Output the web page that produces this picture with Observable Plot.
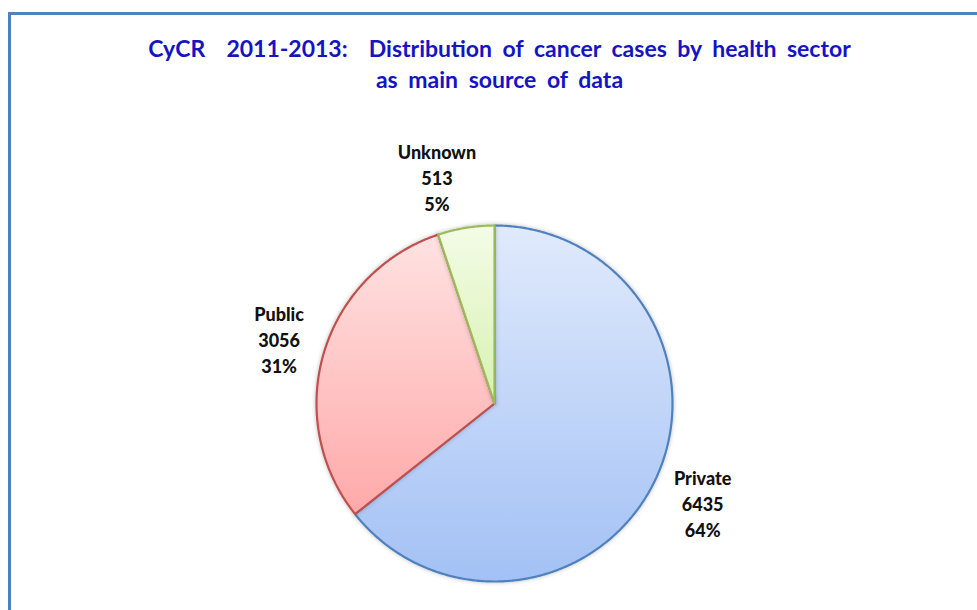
<!DOCTYPE html>
<html>
<head>
<meta charset="utf-8">
<script src="https://cdn.jsdelivr.net/npm/d3@7"></script>
<script src="https://cdn.jsdelivr.net/npm/@observablehq/plot@0.6"></script>
<style>
  html, body { margin: 0; padding: 0; background: #fff; }
  body { width: 977px; height: 610px; overflow: hidden; position: relative; font-family: Lato, "Open Sans", sans-serif; }
  #frame { position: absolute; left: 8px; top: 12px; width: 1100px; height: 700px; border: 3px solid #4F81BD; box-sizing: border-box; }
  #title { position: relative; height: 100px; box-sizing: border-box; padding-top: 33px; text-align: center; color: #1414C4; font-weight: bold; font-size: 23px; line-height: 31px; word-spacing: 5px; padding-left: 22px; }
  #chart { position: relative; }
</style>
</head>
<body>
<div id="frame"></div>
<div id="title">CyCR&nbsp; 2011-2013:&nbsp; Distribution of cancer cases by health sector<br>as main source of data</div>
<div id="chart"></div>
<script>
const sectors = ["Private", "Public", "Unknown"];
const cases = [6435, 3056, 513];
const strokeColors = ["#4F81BD", "#C0504D", "#9BBB59"];
const gradTop = ["#E0EAFC", "#FFE2E2", "#F3FCE6"];
const gradBottom = ["#A3C1F5", "#FFA9A9", "#D8F1B2"];

const total = d3.sum(cases);
const arcs = d3.pie().sort(null).value(d => d)(cases);

// outline of each slice, derived from the pie angles
const outlines = sectors.map((name, i) => {
  const a = arcs[i];
  const pts = [{name, x: 0, y: 0}];
  const n = Math.max(2, Math.ceil((a.endAngle - a.startAngle) / (Math.PI / 360)));
  for (let k = 0; k <= n; k++) {
    const t = a.startAngle + (a.endAngle - a.startAngle) * k / n;
    pts.push({name, x: Math.sin(t), y: Math.cos(t)});
  }
  pts.push({name, x: 0, y: 0});
  return pts;
});

const labels = sectors.map((name, i) => {
  const mid = (arcs[i].startAngle + arcs[i].endAngle) / 2;
  return {
    name,
    x: 1.28 * Math.sin(mid),
    y: 1.28 * Math.cos(mid),
    text: `${name}\n${cases[i]}\n${Math.round(cases[i] / total * 100)}%`
  };
});

const cx = 494, cy = 303, r = 178;

const plot = Plot.plot({
  width: 977,
  height: 510,
  margin: 0,
  style: {background: "transparent", overflow: "visible"},
  x: {domain: [-1, 1], range: [cx - r, cx + r], axis: null},
  y: {domain: [-1, 1], range: [cy + r, cy - r], axis: null},
  marks: [
    ...outlines.map((pts, i) => Plot.line(pts, {
      x: "x", y: "y",
      fill: `url(#grad${i})`,
      stroke: strokeColors[i],
      strokeWidth: 2.2,
      strokeLinejoin: "round"
    })),
    Plot.text(labels.filter(d => d.name !== "Unknown"), {
      x: "x", y: "y", text: "text", dx: 3,
      fontSize: 18, fontWeight: 900, fill: "#111", lineHeight: 1.45,
      fontFamily: "Lato, sans-serif"
    }),
    Plot.text(labels.filter(d => d.name === "Unknown"), {
      x: "x", y: "y", text: "text", dx: -21, dy: -2,
      fontSize: 18, fontWeight: 900, fill: "#111", lineHeight: 1.45,
      fontFamily: "Lato, sans-serif"
    })
  ]
});

const ns = "http://www.w3.org/2000/svg";
const defs = document.createElementNS(ns, "defs");
sectors.forEach((s, i) => {
  const g = document.createElementNS(ns, "linearGradient");
  g.setAttribute("id", `grad${i}`);
  g.setAttribute("x1", "0"); g.setAttribute("y1", "0");
  g.setAttribute("x2", "0"); g.setAttribute("y2", "1");
  const s1 = document.createElementNS(ns, "stop");
  s1.setAttribute("offset", "0"); s1.setAttribute("stop-color", gradTop[i]);
  const s2 = document.createElementNS(ns, "stop");
  s2.setAttribute("offset", "1"); s2.setAttribute("stop-color", gradBottom[i]);
  g.appendChild(s1); g.appendChild(s2);
  defs.appendChild(g);
});
const f = document.createElementNS(ns, "filter");
f.setAttribute("id", "shadow");
f.setAttribute("x", "-10%"); f.setAttribute("y", "-10%");
f.setAttribute("width", "120%"); f.setAttribute("height", "120%");
f.innerHTML = '<feDropShadow dx="0" dy="0" stdDeviation="2" flood-color="#000" flood-opacity="0.25"/>';
defs.appendChild(f);
plot.insertBefore(defs, plot.firstChild);
plot.querySelectorAll("g[aria-label='line']").forEach(g => g.setAttribute("filter", "url(#shadow)"));

document.getElementById("chart").appendChild(plot);
</script>
</body>
</html>
